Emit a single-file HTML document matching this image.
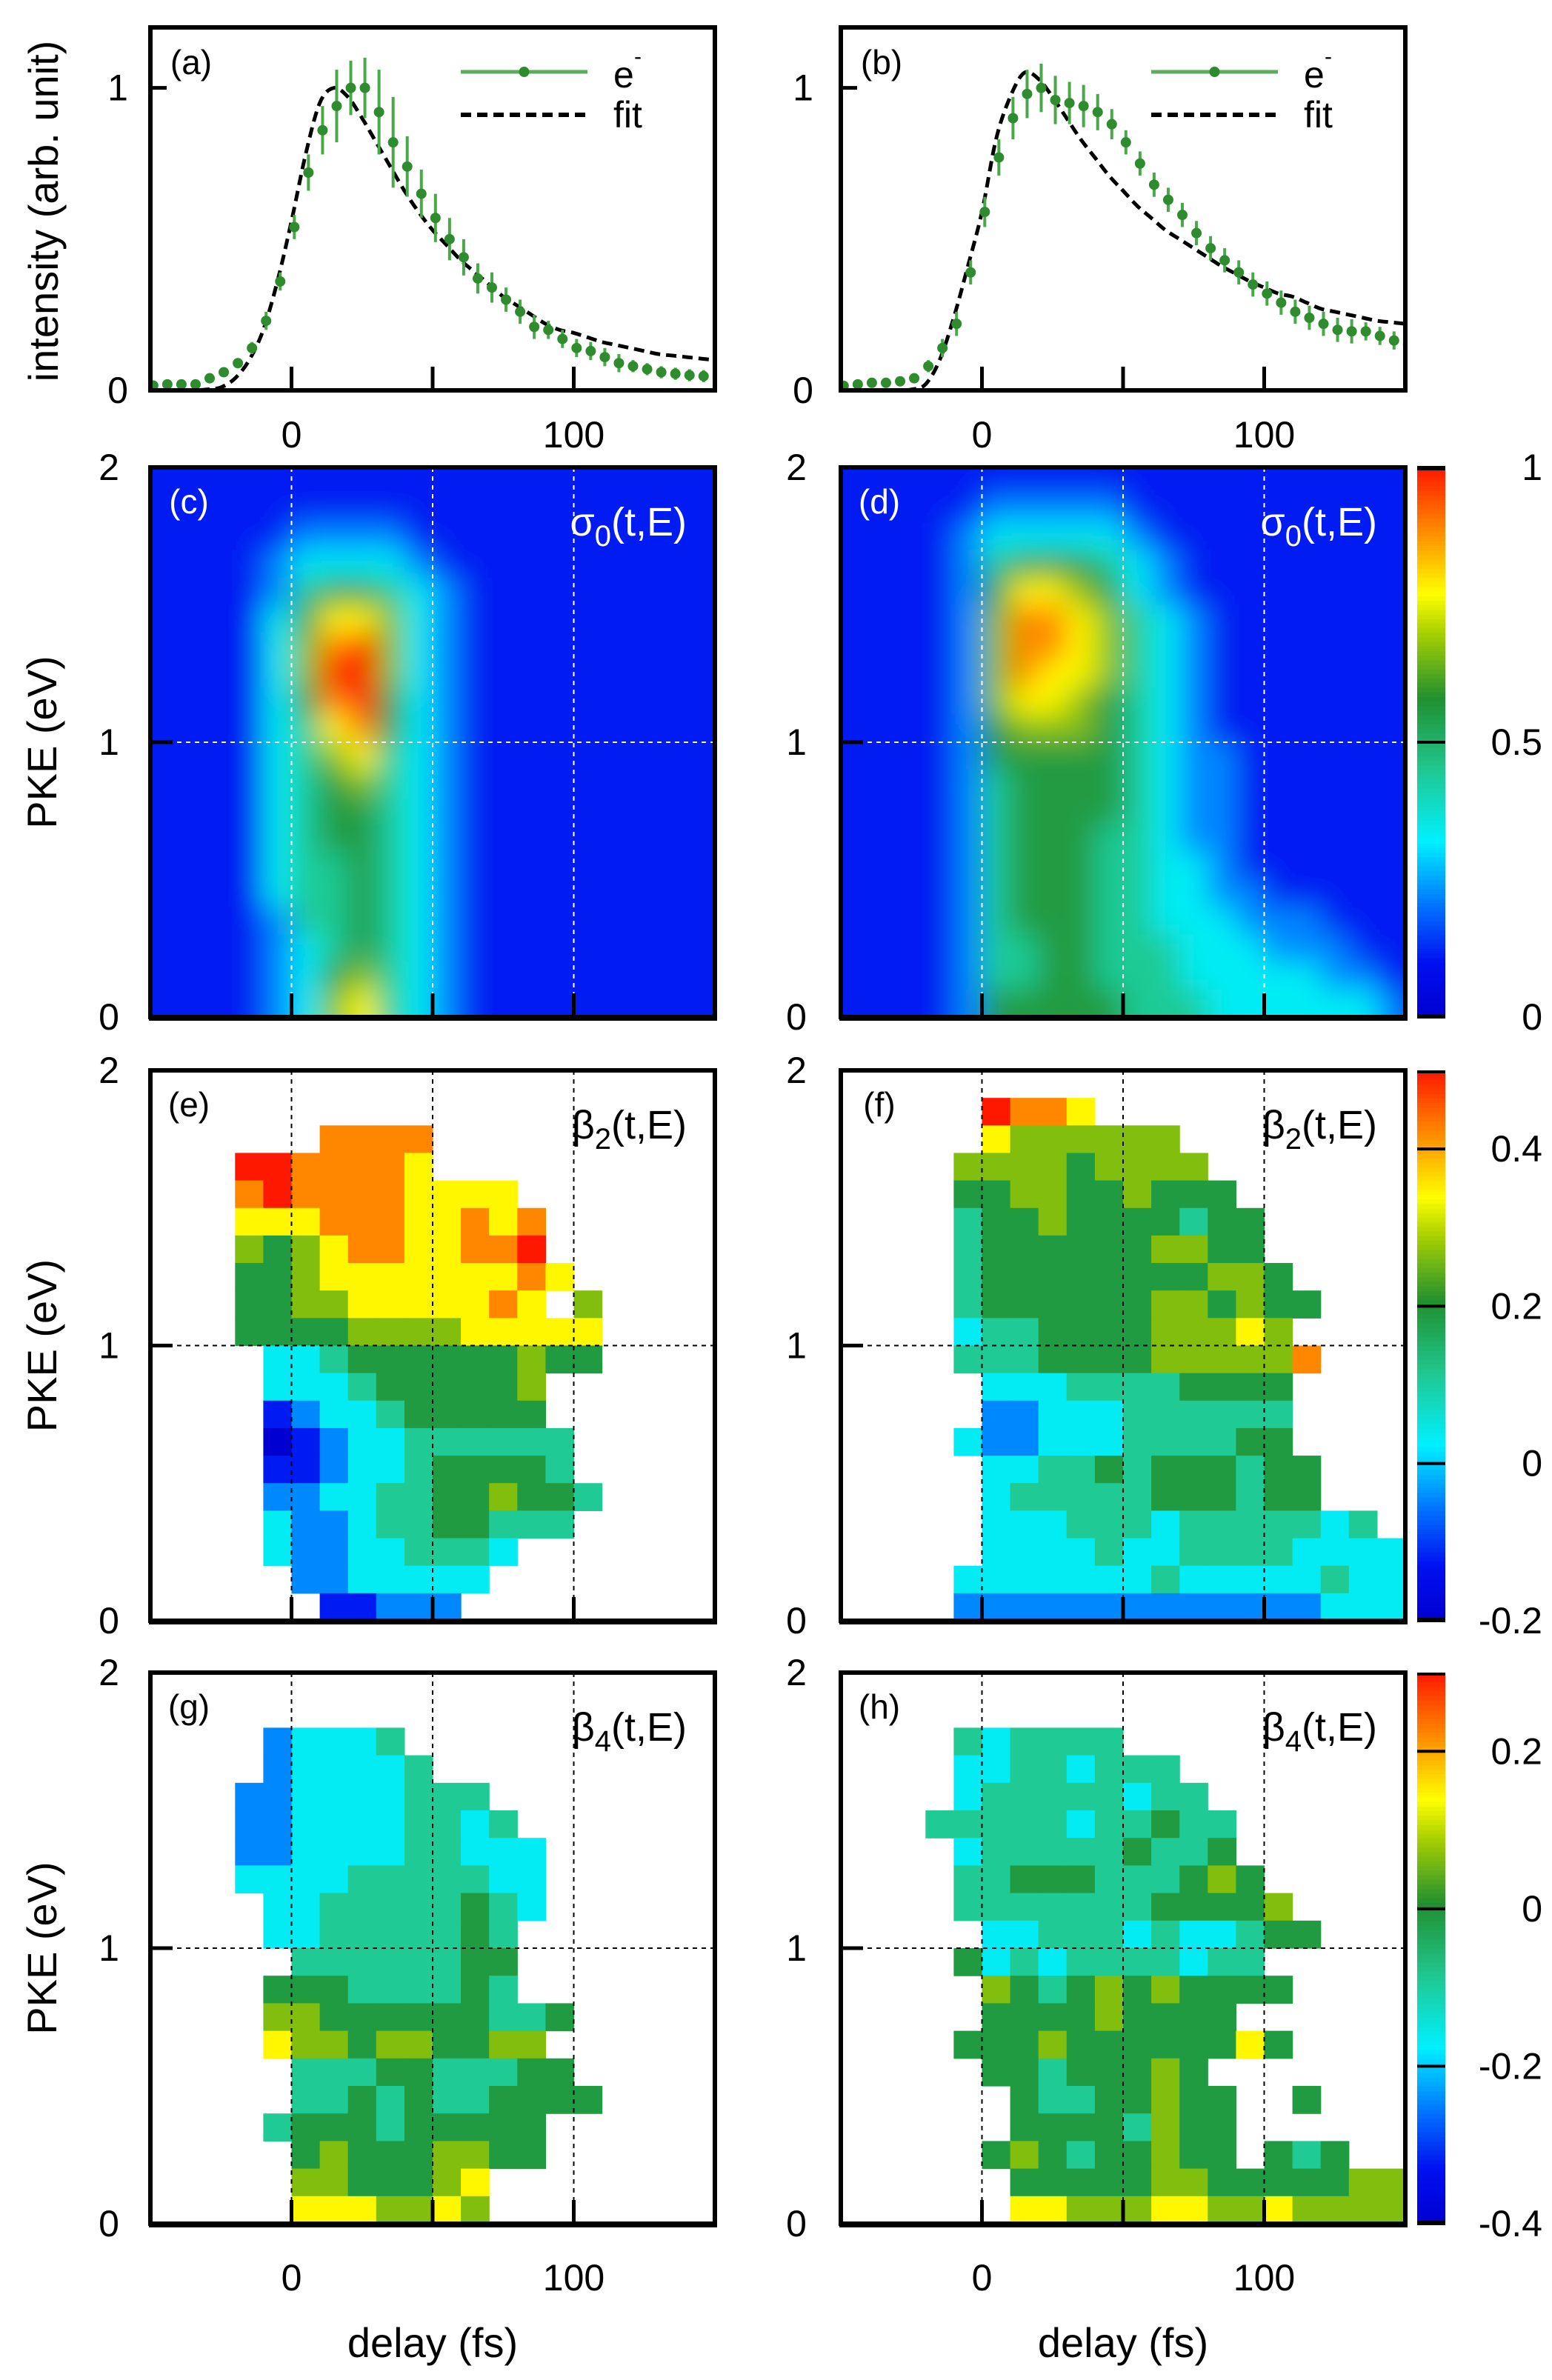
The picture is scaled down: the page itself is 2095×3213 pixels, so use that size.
<!DOCTYPE html>
<html><head><meta charset="utf-8">
<style>
html,body{margin:0;padding:0;background:#fff;}
svg{display:block;font-family:"Liberation Sans",Arial,sans-serif;}
</style></head>
<body>
<svg id="fig" xmlns="http://www.w3.org/2000/svg" width="2095" height="3213" viewBox="0 0 2095 3213">
<defs>
  <filter id="smooth" x="0" y="0" width="1" height="1">
    <feGaussianBlur stdDeviation="20"/>
  </filter>
</defs>
<g id="root"></g>
</svg>
<script>
// ---------- DATA ----------
const delaysA = [-49,-44,-39,-34,-29,-24,-19,-14,-9,-4,1,6,11,16,21,26,31,36,41,46,51,56,61,66,71,76,81,86,91,96,101,106,111,116,121,126,131,136,141,146,151];
const intensityA = [0.016,0.02,0.02,0.02,0.04,0.06,0.09,0.14,0.23,0.36,0.54,0.72,0.86,0.94,1.0,1.0,0.92,0.82,0.74,0.65,0.57,0.50,0.44,0.37,0.34,0.30,0.26,0.21,0.20,0.17,0.14,0.13,0.11,0.09,0.08,0.07,0.06,0.055,0.05,0.047,0.044];
const errA = [0.01,0.01,0.01,0.01,0.01,0.01,0.01,0.02,0.03,0.03,0.04,0.06,0.08,0.12,0.09,0.10,0.14,0.15,0.10,0.08,0.08,0.07,0.06,0.05,0.05,0.04,0.04,0.04,0.03,0.03,0.03,0.03,0.03,0.03,0.02,0.02,0.02,0.02,0.02,0.02,0.02];
const delaysB = [-49,-44,-39,-34,-29,-24,-19,-14,-9,-4,1,6,11,16,21,26,31,36,41,46,51,56,61,66,71,76,81,86,91,96,101,106,111,116,121,126,131,136,141,146,151];
const intensityB = [0.015,0.02,0.025,0.025,0.03,0.04,0.08,0.14,0.22,0.39,0.59,0.77,0.90,0.98,1.0,0.96,0.95,0.94,0.92,0.88,0.82,0.75,0.68,0.63,0.58,0.52,0.47,0.43,0.39,0.35,0.32,0.29,0.26,0.24,0.22,0.20,0.195,0.195,0.18,0.165,0.15];
const errB = [0.01,0.01,0.01,0.01,0.01,0.01,0.02,0.03,0.04,0.04,0.05,0.06,0.07,0.08,0.08,0.08,0.07,0.07,0.06,0.05,0.04,0.04,0.04,0.04,0.04,0.04,0.04,0.04,0.04,0.04,0.04,0.04,0.04,0.04,0.04,0.04,0.04,0.03,0.03,0.03,0.03];
const fitDelays = [-50,-45,-40,-35,-30,-25,-20,-15,-10,-5,0,5,10,15,20,25,30,35,40,45,50,55,60,65,70,75,80,85,90,95,100,105,110,115,120,125,130,135,140,145,150];
const fitA = [0,0,0,0,0.003,0.01,0.04,0.1,0.2,0.36,0.56,0.78,0.95,1.0,0.97,0.9,0.82,0.74,0.66,0.59,0.53,0.48,0.43,0.39,0.35,0.31,0.28,0.25,0.22,0.20,0.19,0.175,0.16,0.15,0.14,0.13,0.12,0.115,0.11,0.105,0.10];
const fitB = [0,0,0,0,0,0.003,0.02,0.10,0.24,0.41,0.59,0.83,0.97,1.05,1.03,0.97,0.90,0.83,0.77,0.71,0.66,0.61,0.57,0.53,0.50,0.47,0.44,0.41,0.385,0.36,0.34,0.32,0.31,0.29,0.27,0.26,0.25,0.24,0.23,0.225,0.22];
const xTickLabels = ["0","100"];
const xTickValues = [0,100];
const xMinorTicks = [0,50,100,150];

const mapC = ["11111111111111111111","11111111111111111111","11111222211111111111","11112333321111111111","11112455432111111111","11113577632111111111","11113689632111111111","11113699632111111111","11113589532111111111","11113478532111111111","11113467432111111111","11113456432111111111","11113455432111111111","11113455432111111111","11113445432111111111","11113445432111111111","11112445432111111111","11112345432111111111","11112356432111111111","11112367432111111111"];
const mapD = ["11111111111111111111","11111222221111111111","11112333332111111111","11112455543211111111","11112577653211111111","11112688764321111111","11112688764321111111","11112687764321111111","11112677654321111111","11112566654321111111","11112555554322111111","11112455554322111111","11112455554322111111","11112455544322111111","11112455544332111111","11112455544332211111","11112455544333222111","11112445544433322211","11112445544433333221","11112555554443333332"];
const mapE = ["....................","....................","......8888..........","...9988887..........","...8988887777.......","...77788877878......","...65678877889......","...556777777787.....","...55667777787.6....","...5555666677777....","....334555555655....","....3334555556......","....1233455555......","....01233444444.....","....11233455554.....","....223344556554....","....32234455444.....","....322334443.......",".....2233333........","......11222........."];
const mapF = ["....................",".....9887...........",".....7666666........","....666656666.......","....5566556555......","....45565555455.....","....45555556655.....","....455555555665....","....4555555665655...","....344555566676....","....4445555666668...",".....33344445555....",".....22333444444....","....322333444455....",".....334454555455...",".....344444555455...",".....33344434444434.",".....333343344443333","....3333333433333433","....2222222222222333"];
const mapG = ["....................","....................","....23334...........","....233334..........","...223333444........","...2233334434.......","...22333344333......","...33334444433......","....3344444543......","....334444454.......",".....44444455.......","....555444454.......","....66555555445.....","....7665665566......",".....4445544455.....",".....44545445555....","....4555455555......",".....565556655......",".....6655567........",".....7776676........"];
const mapH = ["....................","....................","....434444..........","....33443444........","....344444344.......","...44444344544......","....3444445445......","....44555444565.....","....444444455556....",".....334443433455...","....53434444344.....",".....65456565555....",".....555565555......","....555655555575....",".....55455565.......","......54455655..5...","......55554655......",".....565455655.545..","......55555665555566","......77666776676666"];
const cbC = ["0","0.5","1"], cbCv = [0,0.5,1];
const cbE = ["-0.2","0","0.2","0.4"], cbEv = [-0.2,0,0.2,0.4];
const cbG = ["-0.4","-0.2","0","0.2"], cbGv = [-0.4,-0.2,0,0.2];

// ---------- LAYOUT ----------
const NS = "http://www.w3.org/2000/svg";
const root = document.getElementById('root');
const COLS = [{x0:203,x1:965},{x0:1135,x1:1897}];
const ROWS = {top:{y0:37,y1:527}, c:{y0:631,y1:1373}, e:{y0:1445,y1:2188}, g:{y0:2258,y1:3002}};
const T0=-50, T1=150;
function xs(t,col){return col.x0+(t-T0)/(T1-T0)*(col.x1-col.x0);}
function ysTop(v){return ROWS.top.y1 - v/1.2*(ROWS.top.y1-ROWS.top.y0);}
function ysE(E,row){return row.y1 - E/2*(row.y1-row.y0);}
function mk(tag,attrs,parent){const e=document.createElementNS(NS,tag);for(const k in attrs)e.setAttribute(k,attrs[k]);(parent||root).appendChild(e);return e;}
function txt(s,x,y,size,anchor,parent,fill){const t=mk('text',{x:x,y:y,'font-size':size,'text-anchor':anchor||'middle',fill:fill||'#000'},parent);t.textContent=s;return t;}

const STOPS=[[0,[0,0,208]],[0.1,[0,16,240]],[0.2,[0,112,255]],[0.32,[0,240,255]],[0.45,[32,200,144]],[0.58,[32,144,48]],[0.7,[168,208,0]],[0.77,[255,255,0]],[0.88,[255,144,0]],[1,[255,24,0]]];
function cmap(t){t=Math.max(0,Math.min(1,t));for(let i=1;i<STOPS.length;i++){if(t<=STOPS[i][0]){const a=STOPS[i-1],b=STOPS[i];const f=(t-a[0])/(b[0]-a[0]);const c=a[1].map((v,k)=>Math.round(v+(b[1][k]-v)*f));return `rgb(${c[0]},${c[1]},${c[2]})`;}}return 'rgb(255,24,0)';}

function smoothPath(pts){let d=`M${pts[0][0]},${pts[0][1]}`;for(let i=0;i<pts.length-1;i++){const p0=pts[Math.max(0,i-1)],p1=pts[i],p2=pts[i+1],p3=pts[Math.min(pts.length-1,i+2)];const c1=[p1[0]+(p2[0]-p0[0])/6,p1[1]+(p2[1]-p0[1])/6],c2=[p2[0]-(p3[0]-p1[0])/6,p2[1]-(p3[1]-p1[1])/6];d+=` C${c1[0]},${c1[1]} ${c2[0]},${c2[1]} ${p2[0]},${p2[1]}`;}return d;}

function topPanel(col,label,delays,vals,errs,fit,name){
  const g=mk('g',{});
  
  
  const cid='clip-'+name;
  const cp=mk('clipPath',{id:cid},g);mk('rect',{x:col.x0,y:ROWS.top.y0,width:col.x1-col.x0,height:ROWS.top.y1-ROWS.top.y0},cp);
  const dg=mk('g',{'clip-path':`url(#${cid})`},g);
  const fp=fitDelays.map((t,i)=>[xs(t,col),ysTop(fit[i])]);
  const fitEl=mk('path',{d:smoothPath(fp),fill:'none',stroke:'#000','stroke-width':5,'stroke-dasharray':'14 8'},dg);
  
  
  delays.forEach((t,i)=>{
    const x=xs(t,col),y=ysTop(vals[i]);
    const eb=mk('line',{x1:x,x2:x,y1:ysTop(vals[i]+errs[i]),y2:ysTop(vals[i]-errs[i]),stroke:'#4aa84a','stroke-width':4},dg);
    
    
    const c=mk('circle',{cx:x,cy:y,r:7,fill:'#2e8b2e'},dg);
    
    
  });
  xMinorTicks.forEach(t=>{mk('line',{x1:xs(t,col),x2:xs(t,col),y1:ROWS.top.y1,y2:ROWS.top.y1-32,stroke:'#000','stroke-width':5},g);});
  mk('line',{x1:col.x0,x2:col.x0+22,y1:ysTop(1),y2:ysTop(1),stroke:'#000','stroke-width':5},g);
  const fr=mk('rect',{x:col.x0,y:ROWS.top.y0,width:col.x1-col.x0,height:ROWS.top.y1-ROWS.top.y0,fill:'none',stroke:'#000','stroke-width':6},g);
  
  
  const lx=col===COLS[0]?159:1084;
  txt('1',lx,ysTop(1)+17,50,'middle',g);
  txt('0',lx,ysTop(0)+17,50,'middle',g);
  xTickValues.forEach((v,i)=>{const tl=txt(xTickLabels[i],xs(v,col),604,50,'middle',g);});
  const pl=txt(label,col.x0+55,100,46,'middle',g);
  
  
  const lg=mk('g',{},g);
  
  
  const lx0=col.x0+419, lx1=col.x0+590;
  mk('line',{x1:lx0,x2:lx1,y1:97,y2:97,stroke:'#5aae5a','stroke-width':5},lg);
  mk('circle',{cx:(lx0+lx1)/2,cy:97,r:7,fill:'#2e8b2e'},lg);
  mk('line',{x1:lx0,x2:lx1,y1:155,y2:155,stroke:'#000','stroke-width':6,'stroke-dasharray':'14 8'},lg);
  txt('e',lx1+35,118,50,'start',lg);
  txt('-',lx1+63,86,30,'start',lg);
  txt('fit',lx1+35,172,50,'start',lg);
}
topPanel(COLS[0],'(a)',delaysA,intensityA,errA,fitA,'panel-a');
topPanel(COLS[1],'(b)',delaysB,intensityB,errB,fitB,'panel-b');
const yt=txt('intensity (arb. unit)',0,0,56,'middle');
yt.setAttribute('transform','translate(78,285) rotate(-90)');



function heatPanel(col,row,grid,name,label,sym,sub,smooth,white){
  const g=mk('g',{});
  
  
  const cid='clip-'+name;
  const cp=mk('clipPath',{id:cid},g);mk('rect',{x:col.x0,y:row.y0,width:col.x1-col.x0,height:row.y1-row.y0},cp);
  const outer=mk('g',{'clip-path':`url(#${cid})`},g);
  const cg=smooth?mk('g',{filter:'url(#smooth)'},outer):mk('g',{},outer);
  if(smooth){mk('rect',{x:col.x0-80,y:row.y0-80,width:col.x1-col.x0+160,height:row.y1-row.y0+160,fill:cmap(1/9)},cg);}
  grid.forEach((rs,i)=>{
    for(let j=0;j<20;j++){
      const ch=rs[j]; if(ch===undefined||ch==='.'||ch===' ')continue;
      const t=(+ch)/9;
      const x0=xs(T0+10*j,col), x1=xs(T0+10*(j+1),col);
      const y0=ysE(2-0.1*i,row), y1=ysE(2-0.1*(i+1),row);
      const ext = smooth && i===19 ? 60 : 0;
      const r=mk('rect',{x:x0,y:y0,width:x1-x0+0.6,height:y1-y0+0.6+ext,fill:cmap(t)},cg);
      
      
    }
  });
  const gc=white?'#fff':'#000';
  [0,50,100].forEach(t=>{mk('line',{x1:xs(t,col),x2:xs(t,col),y1:row.y0,y2:row.y1,stroke:gc,'stroke-width':2,'stroke-dasharray':'6 6'},g);});
  mk('line',{x1:col.x0,x2:col.x1,y1:ysE(1,row),y2:ysE(1,row),stroke:gc,'stroke-width':2,'stroke-dasharray':'6 6'},g);
  xMinorTicks.forEach(t=>{mk('line',{x1:xs(t,col),x2:xs(t,col),y1:row.y1,y2:row.y1-32,stroke:'#000','stroke-width':5},g);});
  mk('line',{x1:col.x0,x2:col.x0+30,y1:ysE(1,row),y2:ysE(1,row),stroke:'#000','stroke-width':5},g);
  mk('rect',{x:col.x0,y:row.y0,width:col.x1-col.x0,height:row.y1-row.y0,fill:'none',stroke:'#000','stroke-width':6},g);
  mk('line',{x1:col.x0-2,x2:col.x1+3,y1:row.y1+1,y2:row.y1+1,stroke:'#000','stroke-width':8},g);
  const lx=col===COLS[0]?147:1075;
  ['2','1','0'].forEach((s,k)=>txt(s,lx,ysE(2-k,row)+17,50,'middle',g));
  const fc=white?'#fff':'#000';
  const pl=txt(label,col.x0+52,row.y0+62,46,'middle',g,fc);
  
  
  const st=mk('text',{x:col.x1-38,y:row.y0+92,'font-size':54,'text-anchor':'end',fill:fc},g);
  
  
  const s1=mk('tspan',{},st);s1.textContent=sym;
  const s2=mk('tspan',{'font-size':40,dy:14},st);s2.textContent=sub;
  const s3=mk('tspan',{dy:-14},st);s3.textContent='(t,E)';
}
function colorbar(row,labels,values,vmin,vmax,name){
  const g=mk('g',{});
  
  
  const x0=1913,w=38,N=120,h=(row.y1-row.y0)/N;
  for(let k=0;k<N;k++){mk('rect',{x:x0,y:row.y1-(k+1)*h,width:w,height:h+0.8,fill:cmap((k+0.5)/N)},g);}
  mk('line',{x1:x0,x2:x0+w,y1:row.y0+2,y2:row.y0+2,stroke:'#000','stroke-width':4},g);
  mk('line',{x1:x0,x2:x0+w,y1:row.y1-2,y2:row.y1-2,stroke:'#000','stroke-width':4},g);
  values.forEach((v,i)=>{
    const y=row.y1-(v-vmin)/(vmax-vmin)*(row.y1-row.y0);
    mk('line',{x1:x0,x2:x0+w,y1:y,y2:y,stroke:'#000','stroke-width':4},g);
    const t=txt(labels[i],2082,y+17,50,'end',g);
    
    
  });
}
heatPanel(COLS[0],ROWS.c,mapC,'panel-c','(c)','σ','0',true,true);
heatPanel(COLS[1],ROWS.c,mapD,'panel-d','(d)','σ','0',true,true);
heatPanel(COLS[0],ROWS.e,mapE,'panel-e','(e)','β','2',false,false);
heatPanel(COLS[1],ROWS.e,mapF,'panel-f','(f)','β','2',false,false);
heatPanel(COLS[0],ROWS.g,mapG,'panel-g','(g)','β','4',false,false);
heatPanel(COLS[1],ROWS.g,mapH,'panel-h','(h)','β','4',false,false);
colorbar(ROWS.c,cbC,cbCv,0,1,'colorbar-sigma0');
colorbar(ROWS.e,cbE,cbEv,-0.2,0.5,'colorbar-beta2');
colorbar(ROWS.g,cbG,cbGv,-0.4,0.3,'colorbar-beta4');

[ROWS.c,ROWS.e,ROWS.g].forEach(r=>{
  const t=txt('PKE (eV)',0,0,56,'middle');
  t.setAttribute('transform',`translate(76,${(r.y0+r.y1)/2}) rotate(-90)`);
  
  
});
COLS.forEach(col=>{
  xTickValues.forEach((v,i)=>{const t=txt(xTickLabels[i],xs(v,col),3092,50,'middle');});
  const xt=txt('delay (fs)',(col.x0+col.x1)/2,3182,56,'middle');
  
  
});
</script>
</body></html>
